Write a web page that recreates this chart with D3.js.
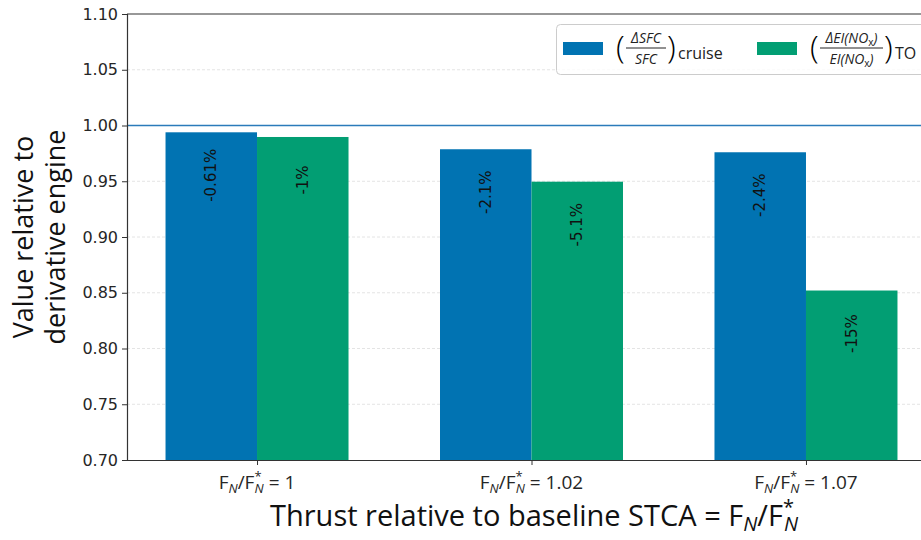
<!DOCTYPE html>
<html>
<head>
<meta charset="utf-8">
<script src="https://cdn.jsdelivr.net/npm/d3@7"></script>
<style>
  body { margin: 0; background: #fff; }
  svg { display: block; }
  .tick text { font-family: "DejaVu Sans", sans-serif; }
</style>
</head>
<body>
<div id="chart"></div>
<script>
// data
var categories = ["1", "1.02", "1.07"]
var sfcValues = [0.9939, 0.9787, 0.976]
var noxValues = [0.9897, 0.9496, 0.852]
var sfcLabels = ["-0.61%", "-2.1%", "-2.4%"]
var noxLabels = ["-1%", "-5.1%", "-15%"]
var yTicks = [0.70, 0.75, 0.80, 0.85, 0.90, 0.95, 1.00, 1.05, 1.10]

var colour = { sfc: "#0173b2", nox: "#029e73", ref: "#2b7bba", ink: "#262626" }
var mathFont = "'Open Sans', Lato, sans-serif"

var W = 921, H = 540
var padL = 127, padT = 14, padB = 460, padR = 936
var barW = 1 / 3

var svg = d3.select("#chart").append("svg")
    .attr("width", W).attr("height", H)

var x = d3.scaleLinear().domain([-0.4737, 2.4737]).range([padL, padR])
var y = d3.scaleLinear().domain([0.70, 1.10]).range([padB, padT])

// grid
svg.append("g").selectAll("line")
    .data(yTicks.filter(function(t) { return t > 0.7 && t < 1.1 && t !== 1.0 }))
    .enter().append("line")
    .attr("x1", padL).attr("x2", W)
    .attr("y1", function(d) { return y(d) }).attr("y2", function(d) { return y(d) })
    .style("stroke", "#dddddd").style("stroke-width", 0.8)
    .style("stroke-dasharray", "3,2")

// bars
var groups = svg.append("g")
groups.selectAll("rect.sfc").data(sfcValues).enter().append("rect")
    .attr("class", "sfc")
    .attr("x", function(d, i) { return x(i - barW) })
    .attr("width", x(barW) - x(0))
    .attr("y", function(d) { return y(d) })
    .attr("height", function(d) { return padB - y(d) })
    .style("fill", colour.sfc)
groups.selectAll("rect.nox").data(noxValues).enter().append("rect")
    .attr("class", "nox")
    .attr("x", function(d, i) { return x(i) })
    .attr("width", x(barW) - x(0))
    .attr("y", function(d) { return y(d) })
    .attr("height", function(d) { return padB - y(d) })
    .style("fill", colour.nox)

// reference line at 1
svg.append("line")
    .attr("x1", padL).attr("x2", W)
    .attr("y1", y(1)).attr("y2", y(1))
    .style("stroke", colour.ref).style("stroke-width", 1.5)

// bar labels, rotated
function barLabels(values, labels, offset) {
    svg.append("g").selectAll("text").data(values).enter().append("text")
        .attr("transform", function(d, i) {
            var cx = x(i + offset), cy = y(d) + 43
            return "translate(" + cx + "," + cy + ") rotate(-90)"
        })
        .attr("text-anchor", "middle")
        .attr("dominant-baseline", "central")
        .style("font-family", "DejaVu Sans, sans-serif")
        .style("font-size", "15px")
        .style("fill", "#111")
        .text(function(d, i) { return labels[i] })
}
barLabels(sfcValues, sfcLabels, -barW / 2)
barLabels(noxValues, noxLabels, barW / 2)

// axes
var yAxis = svg.append("g")
    .attr("transform", "translate(" + padL + ",0)")
    .call(d3.axisLeft(y).tickValues(yTicks).tickFormat(d3.format(".2f")).tickSize(5).tickPadding(4))
yAxis.selectAll("text").style("font-size", "16px").style("fill", colour.ink)
yAxis.selectAll("line").style("stroke", "#333")
yAxis.select(".domain").style("stroke", "#333").style("stroke-width", 1.2)

var xAxis = svg.append("g")
    .attr("transform", "translate(0," + padB + ")")
    .call(d3.axisBottom(x).tickValues([0, 1, 2]).tickFormat("").tickSize(5).tickSizeOuter(0))
xAxis.selectAll("line").style("stroke", "#333")
xAxis.select(".domain").style("stroke", "#333").style("stroke-width", 1.2)

// top spine
svg.append("line")
    .attr("x1", padL).attr("x2", W).attr("y1", padT).attr("y2", padT)
    .style("stroke", "#333").style("stroke-width", 1.2)

// x tick labels: F_N/F_N^* = v
categories.forEach(function(c, i) {
    var t = svg.append("text")
        .attr("x", x(i)).attr("y", 489)
        .attr("text-anchor", "middle")
        .style("font-family", mathFont).style("font-size", "19px").style("fill", colour.ink)
    t.append("tspan").text("F")
    t.append("tspan").attr("dy", 4).style("font-size", "13px").style("font-style", "italic").text("N")
    t.append("tspan").attr("dy", -4).text("/F")
    t.append("tspan").attr("dy", -8).style("font-size", "13px").text("*")
    t.append("tspan").attr("dx", -7).attr("dy", 12).style("font-size", "13px").style("font-style", "italic").text("N")
    t.append("tspan").attr("dy", -4).text(" = " + c)
})

// x axis label
var xl = svg.append("text")
    .attr("x", 534).attr("y", 526)
    .attr("text-anchor", "middle")
    .style("font-family", mathFont).style("font-size", "29px").style("fill", "#111")
xl.append("tspan").text("Thrust relative to baseline STCA = F")
xl.append("tspan").attr("dy", 5).style("font-size", "20px").style("font-style", "italic").text("N")
xl.append("tspan").attr("dy", -5).text("/F")
xl.append("tspan").attr("dy", -12).style("font-size", "20px").text("*")
xl.append("tspan").attr("dx", -10).attr("dy", 17).style("font-size", "20px").style("font-style", "italic").text("N")

// y axis label, two lines
var yl = svg.append("text")
    .attr("transform", "translate(39," + ((padT + padB) / 2) + ") rotate(-90)")
    .attr("text-anchor", "middle")
    .style("font-family", mathFont).style("font-size", "27px").style("fill", "#111")
yl.append("tspan").attr("x", 0).attr("dy", -6).text("Value relative to")
yl.append("tspan").attr("x", 0).attr("dy", 32).text("derivative engine")

// legend
var lg = svg.append("g")
lg.append("rect")
    .attr("x", 556.5).attr("y", 24.5).attr("width", 380).attr("height", 50).attr("rx", 4)
    .style("fill", "#fff").style("fill-opacity", 0.8)
    .style("stroke", "#cccccc")

function fraction(g, x0, num, den, suffix, w) {
    var f = mathFont
    g.append("text").attr("x", x0).attr("y", 58)
        .style("font-family", f).style("font-size", "32px").style("font-weight", 300).text("(")
    var numT = g.append("text").attr("x", x0 + 10 + w / 2).attr("y", 43).attr("text-anchor", "middle")
        .style("font-family", f).style("font-size", "14px").style("fill", "#222")
    num(numT)
    var denT = g.append("text").attr("x", x0 + 10 + w / 2).attr("y", 64).attr("text-anchor", "middle")
        .style("font-family", f).style("font-size", "14px").style("fill", "#222")
    den(denT)
    g.append("line").attr("x1", x0 + 10).attr("x2", x0 + 10 + w).attr("y1", 48).attr("y2", 48)
        .style("stroke", "#222").style("stroke-width", 1)
    g.append("text").attr("x", x0 + 11 + w).attr("y", 58)
        .style("font-family", f).style("font-size", "32px").style("font-weight", 300).text(")")
    g.append("text").attr("x", x0 + 22 + w).attr("y", 59)
        .style("font-family", f).style("font-size", "16px").style("fill", "#222").text(suffix)
}

function noxText(t, delta) {
    t.style("font-style", "italic")
    t.append("tspan").text((delta ? "\u0394" : "") + "EI(NO")
    t.append("tspan").attr("dy", 3).style("font-size", "10px").style("font-style", "normal").text("x")
    t.append("tspan").attr("dy", -3).text(")")
}

var entries = [
    { x: 563, colour: colour.sfc, tx: 616, w: 40, suffix: "cruise",
      num: function(t) { t.style("font-style", "italic").text("\u0394SFC") },
      den: function(t) { t.style("font-style", "italic").text("SFC") } },
    { x: 757, colour: colour.nox, tx: 810, w: 63, suffix: "TO",
      num: function(t) { noxText(t, true) },
      den: function(t) { noxText(t, false) } }
]
entries.forEach(function(e) {
    lg.append("rect").attr("x", e.x).attr("y", 42).attr("width", 40).attr("height", 13)
        .style("fill", e.colour)
    fraction(lg, e.tx, e.num, e.den, e.suffix, e.w)
})
</script>
</body>
</html>
